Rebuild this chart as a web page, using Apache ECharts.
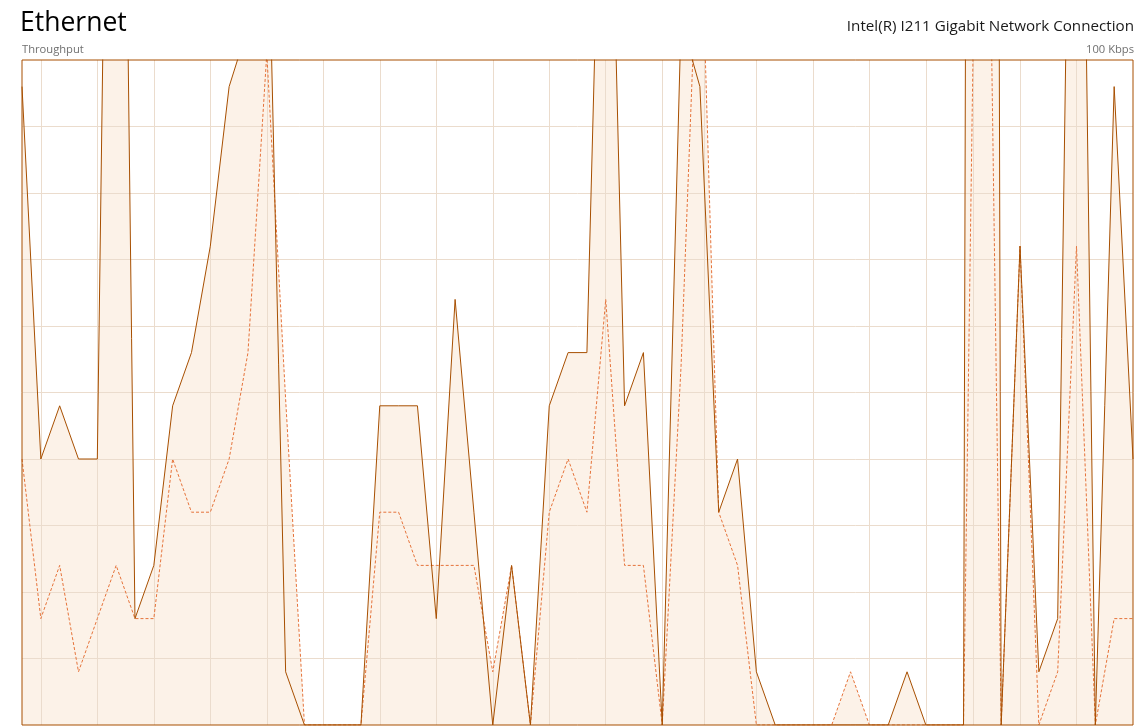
<!DOCTYPE html>
<html>
<head>
<meta charset="utf-8">
<script src="https://cdn.jsdelivr.net/npm/echarts@6/dist/echarts.min.js"></script>
<style>
html,body{margin:0;padding:0;background:#ffffff;}
#chart{width:1145px;height:727px;}
</style>
</head>
<body>
<div id="chart"></div>
<script>
// ---- data (Kbps, one sample per second, 60 samples) ----
const receiveKbps = [96,40,48,40,40,250,16,24,48,56,72,96,105,132,8,0,0,0,0,48,
                     48,48,16,64,32,0,24,0,48,56,56,165,48,56,0,106,96,32,40,8,
                     0,0,0,0,0,0,0,8,0,0,0,1000,0,72,8,16,214,0,96,40];
const sendKbps    = [40,16,24,8,16,24,16,16,40,32,32,40,56,101,49,0,0,0,0,32,
                     32,24,24,24,24,8,24,0,32,40,32,64,24,24,0,54,128,32,24,0,
                     0,0,0,0,8,0,0,0,0,0,0,200,0,72,0,8,72,0,16,16];
// grid line positions (in sample units) and value gridlines
const gridLinesX = [1,4,7,10,13,16,19,22,25,28,31,34,36.25,39,42,45,48,50.5,53,56];
const gridLinesY = [10,20,30,40,50,60,70,80,90];
const titleText = 'Ethernet';
const adapterText = 'Intel(R) I211 Gigabit Network Connection';
const axisLabelLeft = 'Throughput';
const axisLabelRight = '100 Kbps';
const yMax = 100;

const MAIN = '#A74F01';
const SEND = '#E5733A';
const FILL = '#FCF2E8';
const GRID = '#EBDCCD';
const FONT = '"Open Sans", "Noto Sans", sans-serif';

const recvData = receiveKbps.map((v, i) => [i, v]);
const sendData = sendKbps.map((v, i) => [i, v]);

const chart = echarts.init(document.getElementById('chart'), null, {renderer: 'canvas'});
chart.setOption({
  animation: false,
  backgroundColor: '#ffffff',
  grid: {left: 22, top: 60, width: 1111, height: 665, show: true, z: 10,
         backgroundColor: 'transparent', borderColor: MAIN, borderWidth: 1},
  xAxis: {type: 'value', min: 0, max: receiveKbps.length - 1,
          axisLine: {show: false}, axisTick: {show: false}, axisLabel: {show: false},
          splitLine: {show: false}},
  yAxis: {type: 'value', min: 0, max: yMax,
          axisLine: {show: false}, axisTick: {show: false}, axisLabel: {show: false},
          splitLine: {show: false}},
  graphic: [
    {type: 'text', left: 20, top: 10, z: 20,
     style: {text: titleText, font: '26.5px ' + FONT, fill: '#000000'}},
    {type: 'text', right: 11, top: 19, z: 20,
     style: {text: adapterText, font: '15.2px ' + FONT, fill: '#1a1a1a'}},
    {type: 'text', left: 22, top: 44, z: 20,
     style: {text: axisLabelLeft, font: '11.2px ' + FONT, fill: '#707070'}},
    {type: 'text', right: 11, top: 44, z: 20,
     style: {text: axisLabelRight, font: '11.2px ' + FONT, fill: '#707070'}}
  ],
  series: [
    {type: 'line', data: recvData, z: 1, symbol: 'none', silent: true,
     lineStyle: {width: 0, opacity: 0}, areaStyle: {color: FILL, opacity: 1}},
    {type: 'line', data: sendData, z: 1, symbol: 'none', silent: true,
     lineStyle: {width: 0, opacity: 0}, areaStyle: {color: FILL, opacity: 1}},
    {type: 'line', data: recvData, z: 2, symbol: 'none', silent: true,
     lineStyle: {width: 0, opacity: 0},
     markLine: {silent: true, symbol: ['none', 'none'], label: {show: false}, z: 3,
                animation: false,
                lineStyle: {type: 'solid', color: GRID, width: 1},
                emphasis: {disabled: true},
                data: gridLinesX.map(v => ({xAxis: v})).concat(gridLinesY.map(v => ({yAxis: v})))}},
    {type: 'line', data: sendData, z: 5, symbol: 'none', silent: true,
     lineStyle: {width: 1, color: SEND, type: [3, 2]}},
    {type: 'line', data: recvData, z: 6, symbol: 'none', silent: true,
     lineStyle: {width: 1, color: MAIN}}
  ]
});
</script>
</body>
</html>
